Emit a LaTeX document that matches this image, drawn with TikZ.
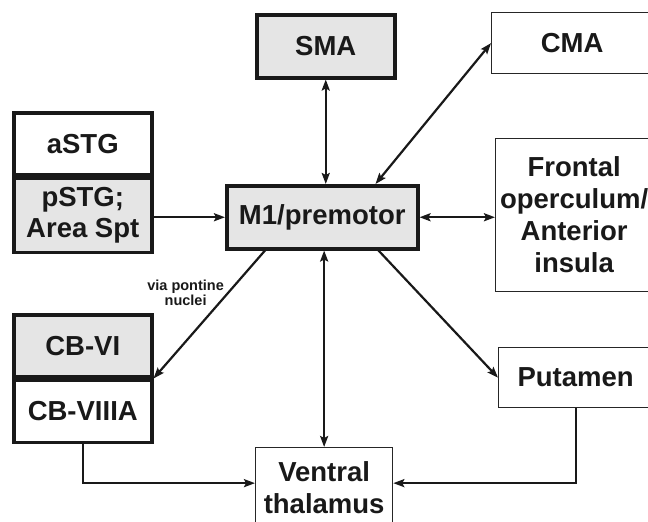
\documentclass[tikz,border=0pt]{standalone}
\usepackage{fontspec}
\setmainfont{Liberation Sans}
\usepackage{tikz}
\usetikzlibrary{arrows.meta,positioning}
\tikzset{
  rgk/.style  = {rectangle, draw=black!90, line width=3.5pt, fill=black!10, text=black!90,
                 align=center, font=\bfseries\fontsize{27.5}{32}\selectfont, inner sep=0pt, anchor=north west},
  rgw/.style  = {rectangle, draw=black!90, line width=3.5pt, fill=white, text=black!90,
                 align=center, font=\bfseries\fontsize{27.5}{32}\selectfont, inner sep=0pt, anchor=north west},
  rgn/.style  = {rectangle, draw=black!85, line width=1.3pt, fill=white, text=black!90,
                 align=center, font=\bfseries\fontsize{27.5}{32}\selectfont, inner sep=0pt, anchor=north west},
  fl/.style   = {-{Stealth[length=11pt,width=8pt,inset=2pt]}, line width=2.2pt, black!90},
  flb/.style  = {{Stealth[length=11pt,width=8pt,inset=2pt]}-{Stealth[length=11pt,width=8pt,inset=2pt]},
                 line width=2.2pt, black!90},
  lbl/.style  = {font=\bfseries\fontsize{14.5}{15}\selectfont, text=black!90, inner sep=1pt},
}
\begin{document}
\begin{tikzpicture}[x=1pt,y=-1pt]
  \useasboundingbox (0,0) rectangle (648,522);
  % cortical areas
  \node[rgk, minimum width=138pt, minimum height=63pt] (sma) at (255,13) {SMA};
  \node[rgn, minimum width=161pt, minimum height=61pt] (cma) at (491,12) {CMA};
  \node[rgw, minimum width=138pt, minimum height=62pt] (astg) at (12,111) {aSTG};
  \node[rgk, minimum width=138pt, minimum height=74pt, below=0pt of astg.south west, anchor=north west] (pstg) {pSTG;\\ Area Spt};
  \node[rgk, minimum width=191pt, minimum height=63pt] (m1) at (225,184) {M1/premotor};
  \node[rgn, minimum width=157pt, minimum height=153pt] (front) at (495,138) {Frontal\\ operculum/\\ Anterior\\ insula};
  % subcortical
  \node[rgk, minimum width=138pt, minimum height=62pt] (cb6) at (12,313) {CB-VI};
  \node[rgw, minimum width=138pt, minimum height=62pt, below=0pt of cb6.south west, anchor=north west] (cb8) {CB-VIIIA};
  \node[rgn, minimum width=154pt, minimum height=60pt] (put) at (498,347) {Putamen};
  \node[rgn, minimum width=137pt, minimum height=80pt] (vth) at (255,447) {Ventral\\ thalamus};

  \draw[fl] (pstg.east |- m1.west) -- (m1.west);
  \draw[flb] (sma.south) -- (sma.south |- m1.north);
  \draw[flb] ([xshift=-44pt]m1.north east) -- (cma.west);
  \draw[flb] (m1.east) -- (front.west |- m1.east);
  \draw[fl] ([xshift=40pt]m1.south west) -- node[lbl, pos=0.35, anchor=east] (via)
    {\begin{tabular}{@{}c@{}}via pontine\\ nuclei\end{tabular}} (cb6.south east);
  \draw[fl] ([xshift=-41pt]m1.south east) -- (put.west);
  \draw[flb] (vth.north |- m1.south) -- (vth.north);
  \draw[fl] (cb8.south) |- ([yshift=4.5pt]vth.west);
  \draw[fl] (put.south) |- ([yshift=4.5pt]vth.east);
\end{tikzpicture}
\end{document}
